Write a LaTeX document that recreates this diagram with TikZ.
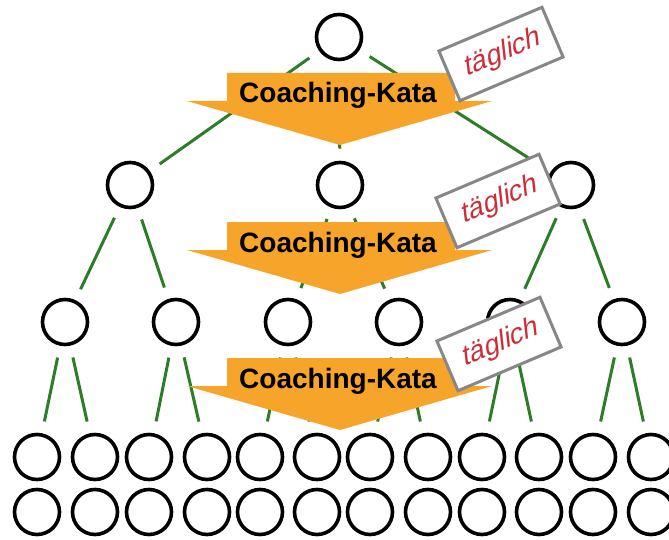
\documentclass[tikz,border=0pt]{standalone}
\usepackage{fontspec}
\setmainfont{Liberation Sans}
\newfontfamily\tagfont[FakeSlant=0.3]{Liberation Sans}
\definecolor{kataorange}{RGB}{247,164,42}
\definecolor{linegreen}{RGB}{45,125,40}
\definecolor{tagred}{RGB}{205,45,55}
\definecolor{taggray}{RGB}{135,135,135}
\tikzset{
  person/.style={circle, draw=black, line width=1.8pt, minimum size=22.5pt, inner sep=0pt},
  link/.style={draw=linegreen, line width=1.5pt, shorten <=6pt, shorten >=6pt},
  tag/.style={draw=taggray, line width=1.5pt, fill=white, minimum width=56pt,
    minimum height=27pt, inner sep=1pt, rotate=23, text=tagred,
    font=\tagfont\fontsize{14}{14}\selectfont},
  katalabel/.style={anchor=base, inner sep=0pt, font=\bfseries\fontsize{14}{14}\selectfont}
}
\begin{document}
\begin{tikzpicture}[x=0.5pt, y=-0.5pt]
  \clip (0,0) rectangle (669,540);
  % people, level by level
  \node[person] (p) at (339,37) {};
  \foreach \x [count=\i] in {130,340,571}
    \node[person] (a\i) at (\x,185) {};
  \foreach \x [count=\i] in {65,176,288,399,510,622}
    \node[person] (b\i) at (\x,322) {};
  \foreach \x [count=\i] in {37,95,149,207,260,317,370,428,482,539,593,651} {
    \node[person] (c\i) at (\x,457) {};
    \node[person] (d\i) at (\x,512) {};
  }
  % links
  \foreach \i in {1,2,3}
    \draw[link] (p) -- (a\i);
  \foreach \a/\b in {1/1,1/2,2/3,2/4,3/5,3/6}
    \draw[link] (a\a) -- (b\b);
  \foreach \i in {1,...,12} {
    \pgfmathtruncatemacro\j{(\i+1)/2}
    \draw[link] (b\j) -- (c\i);
  }
  % coaching arrows with tags
  \foreach \y/\tx/\ty [count=\n] in {73/501/54, 222/498/201, 358/499/344} {
    \fill[kataorange] (227,\y) -- (455,\y) -- (455,\y+28) -- (492,\y+28)
      -- (340,\y+72) -- (187,\y+28) -- (227,\y+28) -- cycle;
    \node[katalabel] (kata\n) at (338,\y+30) {Coaching-Kata};
    \node[tag] (tag\n) at (\tx,\ty) {täglich};
  }
\end{tikzpicture}
\end{document}
